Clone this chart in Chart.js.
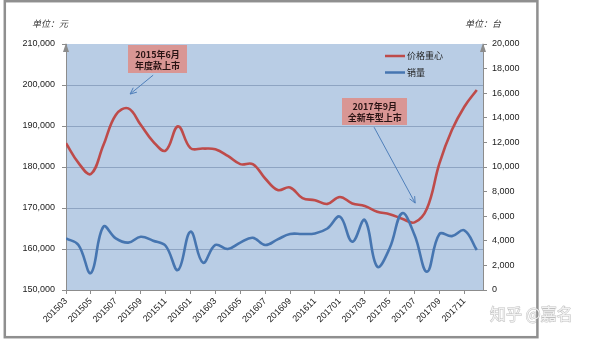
<!DOCTYPE html>
<html>
<head>
<meta charset="utf-8">
<script src="https://cdn.jsdelivr.net/npm/chart.js@4.4.1/dist/chart.umd.min.js"></script>
<style>
  html, body { margin: 0; padding: 0; background: #ffffff; }
  #wrap { position: relative; width: 600px; height: 340px; }
</style>
</head>
<body>
<div id="wrap"><canvas id="c" width="600" height="340"></canvas></div>
<script>
// Monthly categories, 2015-03 .. 2017-12
const months = [
  '201503','201504','201505','201506','201507','201508','201509','201510','201511','201512',
  '201601','201602','201603','201604','201605','201606','201607','201608','201609','201610','201611','201612',
  '201701','201702','201703','201704','201705','201706','201707','201708','201709','201710','201711','201712'
];

// 价格重心 (元), left axis
const priceCenter = [
  185800, 181000, 178300, 185300, 192700, 194300, 190300, 186200, 184000, 189900,
  184600, 184500, 184300, 182700, 180700, 180700, 177200, 174400, 175000, 172400, 171900, 171000,
  172700, 171100, 170500, 169100, 168500, 167400, 166500, 169900, 180900, 189000, 194700, 198800
];

// 销量 (台), right axis
const salesVolume = [
  4200, 3660, 1380, 5150, 4200, 3850, 4330, 4010, 3600, 1630,
  4740, 2220, 3660, 3330, 3850, 4250, 3660, 4120, 4550, 4550, 4600, 5000,
  5960, 3930, 5690, 1900, 3390, 6240, 4470, 1490, 4550, 4380, 4850, 3250
];

const seriesNames = ['价格重心', '销量'];
const unitLabels = ['单位：元', '单位：台'];

// Axis ranges
const priceAxis = { min: 150000, max: 210000, step: 10000 };
const salesAxis = { min: 0, max: 20000, step: 2000 };

// Callouts, anchored in (month index, 价格 value) units
const callouts = [
  { lines: ['2015年6月', '年度款上市'], box: [7.35, 206300], w: 59, h: 28,
    from: [7.0, 202400], to: [5.15, 197800] },
  { lines: ['2017年9月', '全新车型上市'], box: [24.8, 193500], w: 65, h: 27,
    from: [24.75, 189700], to: [28.05, 171200] }
];

const RED = '#be4b4a';
const BLUE = '#4675b0';
const PLOT_BG = '#b9cde5';
const GRID = '#8ea4c2';
const AXIS = '#8c8c8c';
const CJK = "'Noto Sans CJK SC', 'Noto Sans', sans-serif";

Chart.defaults.font.family = "'Liberation Sans', Arial, sans-serif";
Chart.defaults.font.size = 9;
Chart.defaults.color = '#222222';

const fmt = v => Number(v).toLocaleString('en-US');

const decorations = {
  id: 'decorations',
  beforeDraw(chart) {
    const { ctx, chartArea: a } = chart;
    ctx.save();
    ctx.fillStyle = PLOT_BG;
    ctx.fillRect(a.left, a.top, a.right - a.left, a.bottom - a.top);
    ctx.restore();
  },
  afterDatasetsDraw(chart) {
    const { ctx } = chart;
    const xs = chart.scales.x, ys = chart.scales.y;
    const px = p => [xs.getPixelForValue(p[0]), ys.getPixelForValue(p[1])];
    ctx.save();
    callouts.forEach(c => {
      // arrow
      const [x1, y1] = px(c.from), [x2, y2] = px(c.to);
      ctx.strokeStyle = '#4f7fba';
      ctx.lineWidth = 1;
      ctx.beginPath(); ctx.moveTo(x1, y1); ctx.lineTo(x2, y2); ctx.stroke();
      const ang = Math.atan2(y2 - y1, x2 - x1), L = 7, sp = 0.42;
      ctx.beginPath();
      ctx.moveTo(x2 - L * Math.cos(ang - sp), y2 - L * Math.sin(ang - sp));
      ctx.lineTo(x2, y2);
      ctx.lineTo(x2 - L * Math.cos(ang + sp), y2 - L * Math.sin(ang + sp));
      ctx.stroke();
      // box
      const [cx, cy] = px(c.box);
      ctx.fillStyle = '#d99694';
      ctx.fillRect(Math.round(cx - c.w / 2), Math.round(cy - c.h / 2), c.w, c.h);
      ctx.fillStyle = '#2a1414';
      ctx.font = 'bold 9px ' + CJK;
      ctx.textAlign = 'center';
      ctx.textBaseline = 'middle';
      ctx.fillText(c.lines[0], cx, cy - 5);
      ctx.fillText(c.lines[1], cx, cy + 6);
    });
    ctx.restore();
  },
  afterDraw(chart) {
    const { ctx, chartArea: a } = chart;
    ctx.save();
    // axis arrow heads
    ctx.fillStyle = AXIS;
    [a.left, a.right].forEach(x => {
      ctx.beginPath();
      ctx.moveTo(x, a.top - 1);
      ctx.lineTo(x - 3, a.top + 8);
      ctx.lineTo(x + 3, a.top + 8);
      ctx.closePath();
      ctx.fill();
    });
    // legend
    const items = [[seriesNames[0], RED, 56], [seriesNames[1], BLUE, 72.5]];
    ctx.font = '9px ' + CJK;
    ctx.textBaseline = 'middle';
    ctx.textAlign = 'left';
    items.forEach(([t, col, y]) => {
      ctx.strokeStyle = col; ctx.lineWidth = 2.5;
      ctx.beginPath(); ctx.moveTo(a.right - 98, y); ctx.lineTo(a.right - 78, y); ctx.stroke();
      ctx.fillStyle = '#222';
      ctx.fillText(t, a.right - 76, y);
    });
    // unit captions
    ctx.font = 'italic 9px ' + CJK;
    ctx.fillStyle = '#333';
    ctx.fillText(unitLabels[0], 32, 24);
    ctx.fillText(unitLabels[1], 465, 24);
    // frame
    ctx.strokeStyle = '#8f8f8f';
    ctx.lineWidth = 2.5;
    ctx.strokeRect(4.8, 1.2, 532.6, 336);
    // watermark
    ctx.font = '16px ' + CJK;
    ctx.textBaseline = 'middle';
    ctx.lineWidth = 1;
    ctx.strokeStyle = 'rgba(140,140,140,0.55)';
    ctx.fillStyle = '#f2f2f2';
    ctx.strokeText('知乎 @嘉名', 490, 314);
    ctx.fillText('知乎 @嘉名', 490, 314);
    ctx.restore();
  }
};

new Chart(document.getElementById('c'), {
  type: 'line',
  data: {
    datasets: [
      {
        label: seriesNames[0],
        data: months.map((m, i) => ({ x: i, y: priceCenter[i] })),
        yAxisID: 'y',
        borderColor: RED,
        borderWidth: 2.6,
        pointRadius: 0,
        tension: 0.4,
        order: 2
      },
      {
        label: seriesNames[1],
        data: months.map((m, i) => ({ x: i, y: salesVolume[i] })),
        yAxisID: 'y1',
        borderColor: BLUE,
        borderWidth: 2.6,
        pointRadius: 0,
        tension: 0.4,
        order: 1
      }
    ]
  },
  options: {
    responsive: false,
    animation: false,
    devicePixelRatio: 1,
    layout: { padding: { top: 44, left: 0, right: 0, bottom: 0 } },
    plugins: { legend: { display: false }, tooltip: { enabled: false } },
    scales: {
      x: {
        type: 'linear',
        min: 0,
        max: months.length - 0.5,
        afterFit(s) { s.height = 50; },
        ticks: {
          stepSize: 2,
          includeBounds: false,
          autoSkip: false,
          minRotation: 45,
          maxRotation: 45,
          padding: 2,
          callback: v => months[v] !== undefined ? months[v] : ''
        },
        grid: { drawOnChartArea: false, drawTicks: true, tickLength: 4, tickColor: AXIS },
        border: { display: true, color: AXIS, width: 1 }
      },
      y: {
        position: 'left',
        min: priceAxis.min,
        max: priceAxis.max,
        afterFit(s) { s.width = 66; },
        ticks: { stepSize: priceAxis.step, padding: 7, callback: fmt },
        grid: {
          color: c => (c.tick && c.tick.value === priceAxis.max) ? 'rgba(0,0,0,0)' : GRID,
          lineWidth: 1,
          tickLength: 4,
          tickColor: AXIS
        },
        border: { display: true, color: AXIS, width: 1 }
      },
      y1: {
        position: 'right',
        min: salesAxis.min,
        max: salesAxis.max,
        afterFit(s) { s.width = 117; },
        ticks: { stepSize: salesAxis.step, padding: 5, callback: fmt },
        grid: { drawOnChartArea: false, tickLength: 4, tickColor: AXIS },
        border: { display: true, color: AXIS, width: 1 }
      }
    }
  },
  plugins: [decorations]
});
</script>
</body>
</html>
